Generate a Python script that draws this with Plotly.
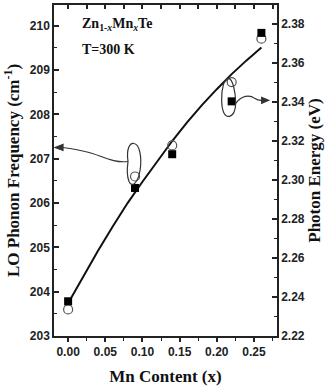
import plotly.graph_objects as go

# Data
mn_content = [0.0, 0.09, 0.14, 0.22, 0.26]
lo_phonon = [203.60, 206.60, 207.30, 208.73, 209.71]        # open circles (left axis)
photon_energy = [2.2378, 2.2959, 2.3132, 2.3403, 2.3754]    # filled squares (right axis)
fit_x = [0.0, 0.02, 0.04, 0.06, 0.08, 0.10, 0.12, 0.14, 0.16, 0.18, 0.20, 0.22, 0.24, 0.26]
fit_y = [203.74, 204.34, 204.92, 205.47, 206.00, 206.48, 206.94, 207.40, 207.82, 208.21,
         208.57, 208.91, 209.22, 209.51]
x_ticks = [0.0, 0.05, 0.10, 0.15, 0.20, 0.25]
x_tick_labels = ["0.00", "0.05", "0.10", "0.15", "0.20", "0.25"]
y_ticks = [203, 204, 205, 206, 207, 208, 209, 210]
y2_ticks = [2.22, 2.24, 2.26, 2.28, 2.30, 2.32, 2.34, 2.36, 2.38]

TICKFONT = dict(family="Liberation Sans, Arial", size=12, color="#222", weight="bold")
TITLEFONT = dict(family="Liberation Serif, Times New Roman", size=17, color="#111")

fig = go.Figure()
fig.add_trace(go.Scatter(x=fit_x, y=fit_y, mode="lines", line=dict(color="#111", width=2),
                         showlegend=False, hoverinfo="skip"))
fig.add_trace(go.Scatter(x=mn_content, y=lo_phonon, mode="markers",
                         marker=dict(symbol="circle-open", size=9, color="#555", line=dict(width=1.2)),
                         showlegend=False))
fig.add_trace(go.Scatter(x=mn_content, y=photon_energy, mode="markers", yaxis="y2",
                         marker=dict(symbol="square", size=8, color="#000"),
                         showlegend=False))
# invisible trace to activate top overlay axis
fig.add_trace(go.Scatter(x=[mn_content[0]], y=[lo_phonon[0]], xaxis="x2", mode="markers",
                         marker=dict(opacity=0), showlegend=False, hoverinfo="skip"))

XR = [-0.019, 0.281]
fig.update_layout(
    width=326, height=388,
    margin=dict(l=54, r=49, t=5, b=50),
    paper_bgcolor="white", plot_bgcolor="white",
    xaxis=dict(range=XR, tickvals=x_ticks, ticktext=x_tick_labels, ticks="outside", ticklen=4,
               tickwidth=1.5, tickcolor="#222", showline=True, linecolor="#222", linewidth=1.5,
               showgrid=False, zeroline=False, tickfont=TICKFONT,
               minor=dict(dtick=0.025, tick0=0, ticks="outside", ticklen=3, tickcolor="#222", tickwidth=1.2),
               title=dict(text="<b>Mn Content (x)</b>", font=TITLEFONT, standoff=12)),
    xaxis2=dict(range=XR, overlaying="x", side="top", dtick=0.025, tick0=0, ticks="inside",
                ticklen=4, tickwidth=1.5, tickcolor="#222", showticklabels=False, showline=True,
                linecolor="#222", linewidth=1.5, showgrid=False, zeroline=False),
    yaxis=dict(range=[203, 210.47], tickvals=y_ticks, ticks="inside", ticklen=5, tickwidth=1.5,
               tickcolor="#222", showline=True, linecolor="#222", linewidth=1.5, showgrid=False,
               zeroline=False, tickfont=TICKFONT,
               minor=dict(dtick=0.5, tick0=203, ticks="inside", ticklen=3, tickcolor="#222", tickwidth=1.2),
               title=dict(text="<b>LO Phonon Frequency (cm<sup>-1</sup>)</b>", font=TITLEFONT, standoff=6)),
    yaxis2=dict(range=[2.22, 2.3897], tickvals=y2_ticks, overlaying="y", side="right", ticks="inside",
                ticklen=5, tickwidth=1.5, tickcolor="#222", showline=True, linecolor="#222",
                linewidth=1.5, showgrid=False, zeroline=False, tickfont=TICKFONT,
                tickformat=".2f",
                minor=dict(dtick=0.01, tick0=2.22, ticks="inside", ticklen=3, tickcolor="#222", tickwidth=1.2),
                title=dict(text="<b>Photon Energy (eV)</b>", font=TITLEFONT, standoff=4)),
)

ANN_FONT = dict(family="Liberation Serif, Times New Roman", size=14, color="#111")
fig.add_annotation(xref="paper", yref="paper", x=0.117, y=0.94, xanchor="left", yanchor="middle",
                   text="<b>Zn<sub>1-<i>x</i></sub>Mn<sub><i>x</i></sub>Te</b>", showarrow=False, font=ANN_FONT)
fig.add_annotation(xref="paper", yref="paper", x=0.117, y=0.865, xanchor="left", yanchor="middle",
                   text="<b>T=300 K</b>", showarrow=False, font=ANN_FONT)

# hand-drawn loop + arrow markers (pixel offsets around selected points)
LOOP = dict(color="#333", width=1.2)
def pix_shape(xa, ya, path, yref="y", fill=None):
    d = dict(type="path", xref="x", yref=yref, xsizemode="pixel", ysizemode="pixel",
             xanchor=xa, yanchor=ya, path=path, line=LOOP)
    if fill:
        d["fillcolor"] = fill
    fig.add_shape(**d)

# loop around circle at x=0.09 -> arrow to left axis
a1x, a1y = mn_content[1], lo_phonon[1]
pix_shape(a1x, a1y, "M -7,15 C -9,28 -5,34 -1,33 C 5,32 7,18 5,6 C 3,-6 -3,-12 -6,-5 C -8,0 -8,8 -7,15")
pix_shape(a1x, a1y, "M -7,15 C -23,13 -35,22 -50,25 C -63,28 -69,29 -75,29")
pix_shape(a1x, a1y, "M -80,29 L -72,32 L -72,26 Z", fill="#333")

# loop around square at x=0.22 -> arrow to right axis
a2x, a2y = mn_content[3], photon_energy[3]
pix_shape(a2x, a2y, "M 4,-2 C 4,10 1,22 -3,23 C -8,23 -10,12 -10,2 C -10,-10 -7,-16 -2,-15 C 2,-14 4,-8 4,-2", yref="y2")
pix_shape(a2x, a2y, "M 4,-2 C 10,6 18,7 23,3 C 27,0 30,1 32,1", yref="y2")
pix_shape(a2x, a2y, "M 37,1 L 30,4 L 30,-2 Z", yref="y2", fill="#333")

fig.write_html("out.html")
